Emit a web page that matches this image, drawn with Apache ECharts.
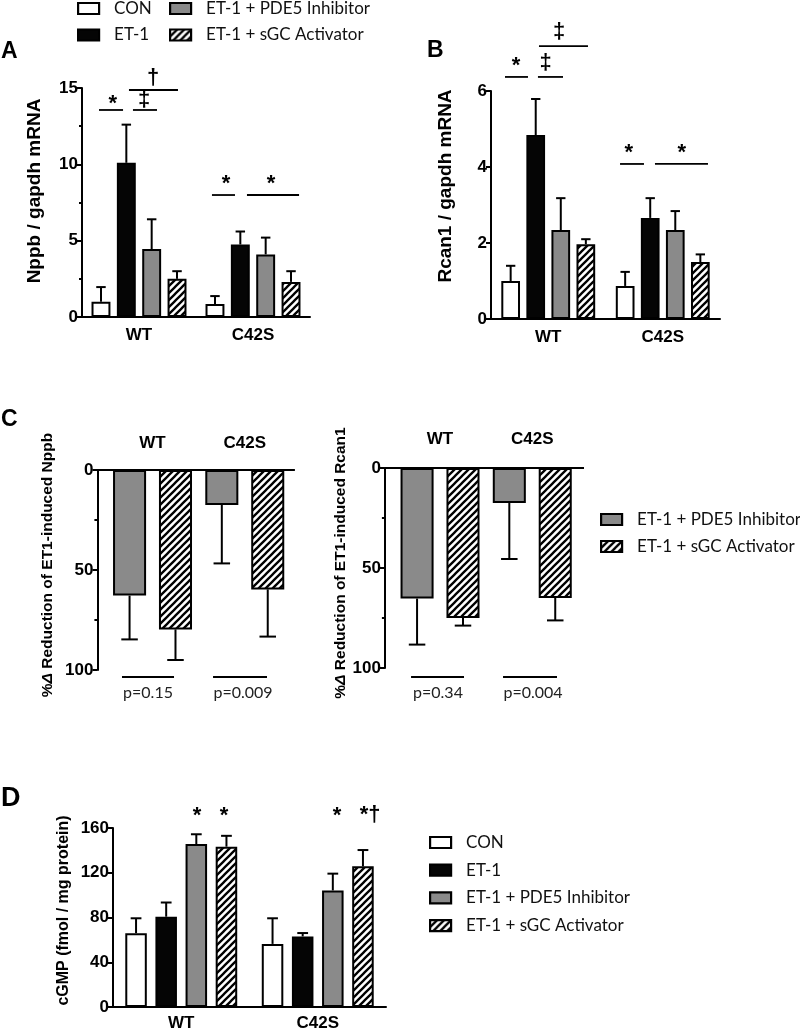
<!DOCTYPE html>
<html><head><meta charset="utf-8">
<script src="https://cdn.jsdelivr.net/npm/echarts@6/dist/echarts.min.js"></script>
<style>html,body{margin:0;padding:0;background:#fff}#c{width:800px;height:1032px}</style>
</head><body><div id="c"></div>
<script>
// ---------- data ----------
const groups = ['WT', 'C42S'];
const treatments = ['CON', 'ET-1', 'ET-1 + PDE5 Inhibitor', 'ET-1 + sGC Activator'];

// Panel A: Nppb / gapdh mRNA (mean, SEM)
const nppbCON = [1.0, 0.85],  nppbCONerr = [0.96, 0.52];
const nppbET1 = [10.1, 4.75], nppbET1err = [2.5, 0.85];
const nppbPDE5 = [4.45, 4.1], nppbPDE5err = [1.95, 1.1];
const nppbSGC = [2.5, 2.3],   nppbSGCerr = [0.5, 0.7];

// Panel B: Rcan1 / gapdh mRNA
const rcanCON = [1.0, 0.87],  rcanCONerr = [0.4, 0.37];
const rcanET1 = [4.84, 2.66], rcanET1err = [0.95, 0.52];
const rcanPDE5 = [2.34, 2.34], rcanPDE5err = [0.84, 0.5];
const rcanSGC = [1.97, 1.5],  rcanSGCerr = [0.13, 0.2];

// Panel C: % reduction of ET1-induced expression
const redNppbPDE5 = [62.8, 17.5], redNppbPDE5err = [21.9, 29.2];
const redNppbSGC = [79.7, 59.7],  redNppbSGCerr = [15.3, 23.6];
const redRcanPDE5 = [65.3, 17.5], redRcanPDE5err = [23.0, 28.0];
const redRcanSGC = [75.0, 65.0],  redRcanSGCerr = [3.8, 11.2];
const pNppb = ['p=0.15', 'p=0.009'];
const pRcan = ['p=0.34', 'p=0.004'];

// Panel D: cGMP (fmol / mg protein)
const cgmpCON = [66.0, 56.4],   cgmpCONerr = [13.3, 22.9];
const cgmpET1 = [80.7, 63.1],   cgmpET1err = [12.7, 3.0];
const cgmpPDE5 = [145.6, 104.2], cgmpPDE5err = [8.8, 15.0];
const cgmpSGC = [143.3, 125.7], cgmpSGCerr = [9.7, 14.6];

// significance marks: [category, lineStart, lineEnd (fraction of band from centre), line y value, text, text x fraction, text y value]
const sigA = [
  [0, -0.351, -0.140, 13.56, '*', -0.231, 13.95],
  [0, -0.053, 0.158, 13.56, '‡', 0.044, 14.25],
  [0, -0.088, 0.342, 14.87, '†', 0.123, 15.65],
  [1, -0.360, -0.158, 7.99, '*', -0.237, 8.7],
  [1, -0.053, 0.404, 7.99, '*', 0.158, 8.7]
];
const sigB = [
  [0, -0.378, -0.177, 6.37, '*', -0.282, 6.66],
  [0, -0.090, 0.129, 6.37, '‡', -0.022, 6.74],
  [0, -0.081, 0.347, 7.18, '‡', 0.094, 7.55],
  [1, -0.373, -0.164, 4.08, '*', -0.297, 4.37],
  [1, -0.068, 0.395, 4.08, '*', 0.166, 4.37]
];
const sigD = [
  [0, null, null, 0, '*', 0.115, 171],
  [0, null, null, 0, '*', 0.313, 171],
  [1, null, null, 0, '*', 0.141, 171],
  [1, null, null, 0, '*†', 0.383, 172]
];
const pLinesL = [
  [0, -0.331, 0.233, 103.5, pNppb[0], -0.049, 111.5],
  [1, -0.344, 0.241, 103.5, pNppb[1], -0.019, 111.5]
];
const pLinesR = [
  [0, -0.314, 0.260, 104.5, pRcan[0], -0.022, 112.5],
  [1, -0.317, 0.268, 104.5, pRcan[1], 0.008, 112.5]
];

// ---------- styles ----------
const FONT = "'Liberation Sans', Arial, sans-serif";
const LFONT = "Lato, 'Open Sans', sans-serif";
function hatchCanvas() {
  const s = 7, c = document.createElement('canvas');
  c.width = c.height = s;
  const g = c.getContext('2d');
  g.fillStyle = '#fff'; g.fillRect(0, 0, s, s);
  g.strokeStyle = '#000'; g.lineWidth = 2.3; g.lineCap = 'square';
  g.beginPath();
  g.moveTo(0, s); g.lineTo(s, 0);
  g.moveTo(-1, 1); g.lineTo(1, -1);
  g.moveTo(s - 1, s + 1); g.lineTo(s + 1, s - 1);
  g.stroke();
  return c;
}
const hatch = { image: hatchCanvas(), repeat: 'repeat' };
const fills = { 'CON': '#ffffff', 'ET-1': '#050505', 'ET-1 + PDE5 Inhibitor': '#8a8a8a', 'ET-1 + sGC Activator': hatch };

function geom(j, n, catGap, barGap) {
  const usable = 1 - catGap;
  const w = usable / (n + (n - 1) * barGap);
  return { c: -usable / 2 + j * w * (1 + barGap) + w / 2, w: w };
}

const series = [];
function addBars(gi, names, means, errs, catGap, barGap) {
  const n = names.length;
  names.forEach((nm, j) => {
    series.push({
      type: 'bar', name: nm, xAxisIndex: gi, yAxisIndex: gi,
      data: means[j], barCategoryGap: (catGap * 100) + '%', barGap: (barGap * 100) + '%',
      itemStyle: { color: fills[nm], borderColor: '#000', borderWidth: 2 },
      emphasis: { disabled: true }, z: 2
    });
    const g = geom(j, n, catGap, barGap);
    series.push({
      type: 'custom', xAxisIndex: gi, yAxisIndex: gi, z: 3, clip: false, silent: true,
      data: means[j].map((m, i) => [i, m, errs[j][i]]),
      renderItem: function (params, api) {
        const cat = api.value(0), m = api.value(1), e = api.value(2);
        const band = api.size([1, 0])[0];
        const p0 = api.coord([cat, m]), p1 = api.coord([cat, m + e]);
        const x = p0[0] + g.c * band, hw = g.w * band / 4;
        const st = { stroke: '#000', lineWidth: 2 };
        return { type: 'group', children: [
          { type: 'line', shape: { x1: x, y1: p0[1], x2: x, y2: p1[1] }, style: st },
          { type: 'line', shape: { x1: x - hw, y1: p1[1], x2: x + hw, y2: p1[1] }, style: st }
        ] };
      }
    });
  });
}
function addMarks(gi, marks, font, color) {
  series.push({
    type: 'custom', xAxisIndex: gi, yAxisIndex: gi, z: 4, clip: false, silent: true,
    data: marks.map(s => [s[0], s[3]]),
    renderItem: function (params, api) {
      const s = marks[params.dataIndex];
      const band = api.size([1, 0])[0];
      const c = api.coord([s[0], s[3]]);
      const t = api.coord([s[0], s[6]]);
      const ch = [];
      if (s[1] !== null) ch.push({ type: 'line', shape: { x1: c[0] + s[1] * band, y1: c[1], x2: c[0] + s[2] * band, y2: c[1] }, style: { stroke: '#000', lineWidth: 1.8 } });
      ch.push({ type: 'text', x: c[0] + s[5] * band, y: t[1], style: { text: s[4], font: font, fill: color, align: 'center', verticalAlign: 'middle' } });
      return { type: 'group', children: ch };
    }
  });
}
function addTopLine(gi, extL, extR) {
  series.push({
    type: 'custom', xAxisIndex: gi, yAxisIndex: gi, z: 5, clip: false, silent: true,
    data: [[0, 0]],
    renderItem: function (params, api) {
      const cs = params.coordSys;
      return { type: 'line', shape: { x1: cs.x - extL, y1: cs.y, x2: cs.x + cs.width + extR, y2: cs.y }, style: { stroke: '#000', lineWidth: 2 } };
    }
  });
}

// grids: 0=A, 1=B, 2=C left, 3=C right, 4=D
const grids = [
  { left: 82, top: 88, width: 228, height: 229 },
  { left: 491, top: 91, width: 229, height: 228 },
  { left: 106.4, top: 470, width: 184.5, height: 200 },
  { left: 393.9, top: 468, width: 184.5, height: 200 },
  { left: 113, top: 828, width: 273, height: 181 }
];
const axLine = { show: true, lineStyle: { color: '#000', width: 2 } };
const axTick = { show: true, length: 5, lineStyle: { color: '#000', width: 2 } };
const tickLbl = { color: '#000', fontFamily: FONT, fontWeight: 'bold', fontSize: 17, margin: 4 };
function xCat(gi, opts) {
  return Object.assign({
    type: 'category', gridIndex: gi, data: groups,
    axisLine: axLine, axisTick: { show: false },
    axisLabel: { color: '#000', fontFamily: FONT, fontWeight: 'bold', fontSize: 17, margin: 10 },
    splitLine: { show: false }
  }, opts || {});
}
function yVal(gi, min, max, interval, name, nameGap, pad, fs, opts) {
  return Object.assign({
    type: 'value', gridIndex: gi, min: min, max: max, interval: interval,
    axisLine: axLine, axisTick: axTick, axisLabel: tickLbl, splitLine: { show: false },
    name: name, nameLocation: 'middle', nameGap: nameGap,
    nameTextStyle: { color: '#000', fontFamily: FONT, fontWeight: 'bold', fontSize: fs, padding: [0, 0, 0, pad],
      rich: { i: { fontStyle: 'italic', fontWeight: 'bold', fontSize: fs, fontFamily: FONT, color: '#000' } } }
  }, opts || {});
}
const minor = { show: true, splitNumber: 2, length: 3, lineStyle: { color: '#000', width: 2 } };

const xAxes = [
  xCat(0), xCat(1),
  xCat(2, { position: 'top', axisLine: { show: false }, axisLabel: { color: '#000', fontFamily: FONT, fontWeight: 'bold', fontSize: 17, margin: 18 } }),
  xCat(3, { position: 'top', axisLine: { show: false }, axisLabel: { color: '#000', fontFamily: FONT, fontWeight: 'bold', fontSize: 17, margin: 20 } }),
  xCat(4, { axisLabel: { color: '#000', fontFamily: FONT, fontWeight: 'bold', fontSize: 17, margin: 8 } })
];
const yAxes = [
  yVal(0, 0, 15, 5, 'Nppb / gapdh mRNA', 38, 23, 19, { minorTick: minor }),
  yVal(1, 0, 6, 2, 'Rcan1 / gapdh mRNA', 36, 38, 19),
  yVal(2, 0, 100, 50, '%{i|Δ} Reduction of ET1-induced Nppb', 42, 10, 15.5, { inverse: true, offset: 9, minorTick: minor }),
  yVal(3, 0, 100, 50, '%{i|Δ} Reduction of ET1-induced Rcan1', 35, 10, 15.5, { inverse: true, offset: 9, minorTick: minor }),
  yVal(4, 0, 160, 40, 'cGMP (fmol / mg protein)', 41, 14, 16)
];

const starFont = "bold 22px " + FONT;
addBars(0, treatments, [nppbCON, nppbET1, nppbPDE5, nppbSGC], [nppbCONerr, nppbET1err, nppbPDE5err, nppbSGCerr], 0.167, 0.34);
addMarks(0, sigA, starFont, '#000');
addBars(1, treatments, [rcanCON, rcanET1, rcanPDE5, rcanSGC], [rcanCONerr, rcanET1err, rcanPDE5err, rcanSGCerr], 0.18, 0.34);
addMarks(1, sigB, starFont, '#000');
addBars(2, treatments.slice(2), [redNppbPDE5, redNppbSGC], [redNppbPDE5err, redNppbSGCerr], 0.144, 0.39);
addMarks(2, pLinesL, '16px ' + LFONT, '#222');
addTopLine(2, 9.4, 4);
addBars(3, treatments.slice(2), [redRcanPDE5, redRcanSGC], [redRcanPDE5err, redRcanSGCerr], 0.144, 0.39);
addMarks(3, pLinesR, '16px ' + LFONT, '#222');
addTopLine(3, 8.9, 5.6);
addBars(4, treatments, [cgmpCON, cgmpET1, cgmpPDE5, cgmpSGC], [cgmpCONerr, cgmpET1err, cgmpPDE5err, cgmpSGCerr], 0.18, 0.4);
addMarks(4, sigD, starFont, '#000');

const legTxt = { color: '#111', fontFamily: LFONT, fontSize: 17, padding: [0, 0, 0, 10] };
function leg(data, left, top, gap) {
  return { data: data, left: left, top: top, orient: 'vertical', itemWidth: 21, itemHeight: 11, itemGap: gap,
    selectedMode: false, icon: 'rect', padding: 0, textStyle: legTxt,
    itemStyle: { borderColor: '#000', borderWidth: 2.2 } };
}
const titleStyle = { color: '#000', fontFamily: FONT, fontWeight: 'bold', fontSize: 23 };
const option = {
  animation: false,
  backgroundColor: '#fff',
  title: [
    { text: 'A', left: 1, top: 40, padding: 0, textStyle: titleStyle },
    { text: 'B', left: 427, top: 39, padding: 0, textStyle: titleStyle },
    { text: 'C', left: 1, top: 408, padding: 0, textStyle: titleStyle },
    { text: 'D', left: 1, top: 785, padding: 0, textStyle: Object.assign({}, titleStyle, { fontSize: 27 }) }
  ],
  legend: [
    leg(['CON', 'ET-1'], 77, 0, 9.5),
    leg(['ET-1 + PDE5 Inhibitor', 'ET-1 + sGC Activator'], 169, 0, 9.5),
    leg(['ET-1 + PDE5 Inhibitor', 'ET-1 + sGC Activator'], 600, 511, 10),
    leg(treatments, 429, 834, 10.7)
  ],
  grid: grids,
  xAxis: xAxes,
  yAxis: yAxes,
  series: series
};
const chart = echarts.init(document.getElementById('c'), null, { renderer: 'canvas' });
chart.setOption(option);
</script>
</body></html>
